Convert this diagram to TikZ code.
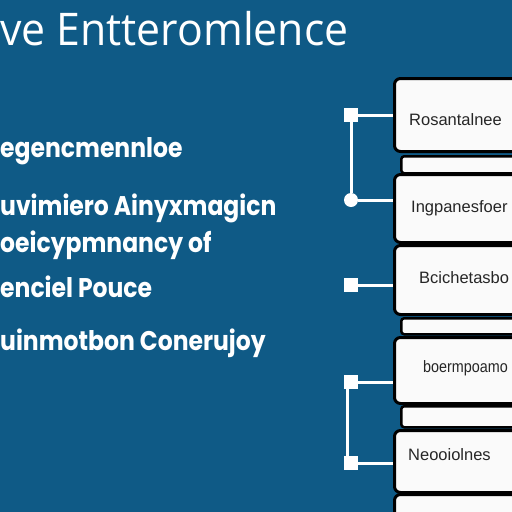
\documentclass[tikz,border=0pt]{standalone}
\usepackage{fontspec}
\setmainfont{Open Sans}
\newfontfamily\leftfont{Poppins}
\newfontfamily\boxfont{Liberation Sans}
\definecolor{bgblue}{HTML}{0F5A86}
\definecolor{boxtext}{HTML}{262626}
\definecolor{boxfill}{HTML}{FAFAFA}
\newcommand{\lsq}[1]{\scalebox{0.87}[1]{#1}}
\begin{document}
\begin{tikzpicture}[x=1pt,y=-1pt,
  panel/.style={draw=black,line width=3pt,fill=boxfill,rounded corners=6pt,anchor=north west,inner sep=0pt},
  strip/.style={draw=black,line width=2.5pt,fill=boxfill,rounded corners=3pt,anchor=north west,inner sep=0pt},
  lefttext/.style={text=white,anchor=base west,inner sep=0pt,font=\leftfont\bfseries\fontsize{27}{30}\selectfont},
  boxlabel/.style={text=boxtext,anchor=base west,inner sep=0pt,font=\boxfont\fontsize{16.5}{19}\selectfont},
  sqmark/.style={fill=white,minimum size=14pt,inner sep=0pt},
  dotmark/.style={circle,fill=white,minimum size=14pt,inner sep=0pt},
  wire/.style={draw=white,line width=3pt}]
\useasboundingbox (0,0) rectangle (512,512);
\fill[bgblue] (0,0) rectangle (512,512);
\clip (0,0) rectangle (512,512);
% title
\node[text=white,anchor=base west,inner sep=0pt,font=\fontsize{45}{50}\selectfont] (title) at (0,45) {\scalebox{0.95}[1]{ve Entteromlence}};
% left lines
\node[lefttext] (l1) at (0,157) {\lsq{egencmennloe}};
\node[lefttext] (l2) at (0,215) {\lsq{uvimiero Ainyxmagicn}};
\node[lefttext] (l3) at (0,252) {\lsq{oeicypmnancy of}};
\node[lefttext] (l4) at (0,297) {\lsq{enciel Pouce}};
\node[lefttext] (l5) at (0,350) {\lsq{uinmotbon Conerujoy}};
% strips behind
\node[strip,minimum width=130pt,minimum height=17pt] (s1) at (400,155) {};
\node[strip,minimum width=130pt,minimum height=16pt] (s2) at (400,317) {};
\node[strip,minimum width=130pt,minimum height=21pt] (s3) at (400,405) {};
% panels
\node[panel,minimum width=140pt,minimum height=73pt] (b1) at (393,77) {};
\node[panel,minimum width=140pt,minimum height=68pt] (b2) at (393,173) {};
\node[panel,minimum width=140pt,minimum height=69pt] (b3) at (393,244) {};
\node[panel,minimum width=140pt,minimum height=66pt] (b4) at (393,336) {};
\node[panel,minimum width=140pt,minimum height=62pt] (b5) at (393,429) {};
\node[panel,minimum width=140pt,minimum height=40pt] (b6) at (393,493) {};
% panel labels
\node[boxlabel] (t1) at (409,125) {Rosantalnee};
\node[boxlabel] (t2) at (411,212) {Ingpanesfoer};
\node[boxlabel] (t3) at (419,283) {Bcichetasbo};
\node[boxlabel] (t4) at (423,372) {\scalebox{0.87}[1]{boermpoamo}};
\node[boxlabel] (t5) at (408,460) {Neooiolnes};
% connectors
\node[sqmark] (q1) at (351,115) {};
\node[dotmark] (c1) at (351,200) {};
\node[sqmark] (q2) at (351,285) {};
\node[sqmark] (q3) at (351,382) {};
\node[sqmark] (q4) at (351,463) {};
\draw[wire] (q1) -- (q1 -| b1.west);
\draw[wire] (q1) -- (c1);
\draw[wire] (c1) -- (c1 -| b2.west);
\draw[wire] (q2) -- (q2 -| b3.west);
\draw[wire] (q3) -- (q3 -| b4.west);
\draw[wire] ([xshift=-4pt]q3.center) -- ([xshift=-4pt]q4.center);
\draw[wire] (q4) -- (q4 -| b5.west);
\end{tikzpicture}
\end{document}
